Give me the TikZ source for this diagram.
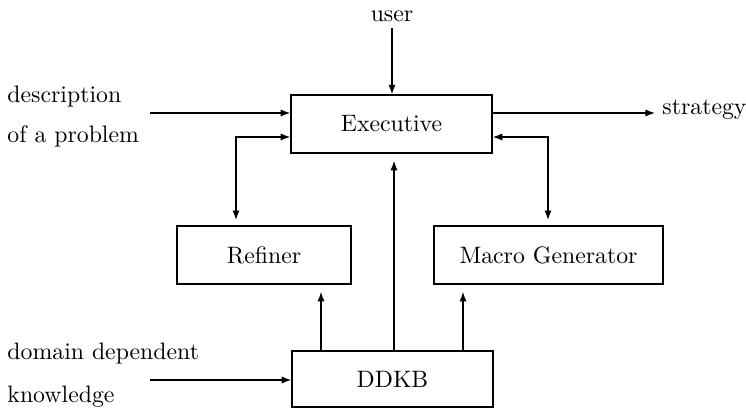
\documentclass[tikz,border=0pt]{standalone}
\usetikzlibrary{arrows.meta}
\begin{document}
\begin{tikzpicture}[x=0.4207pt,y=-0.4207pt,
  box/.style={draw,line width=0.6pt,inner sep=0pt},
  lbl/.style={anchor=base west,inner sep=0pt},
  arr/.style={line width=0.55pt,-{Latex[length=4pt,width=3pt]}},
  darr/.style={line width=0.55pt,{Latex[length=4pt,width=3pt]}-{Latex[length=4pt,width=3pt]}}]
\useasboundingbox (0,0) rectangle (746,408);
% boxes
\node[box,minimum width=84.6pt,minimum height=24.4pt] (exec) at (391.5,124) {Executive};
\node[box,minimum width=73.2pt,minimum height=24.4pt] (refiner) at (264,255) {Refiner};
\node[box,minimum width=96.3pt,minimum height=24.4pt] (macro) at (548.5,255) {Macro Generator};
\node[box,minimum width=84.6pt,minimum height=23.6pt] (ddkb) at (392.5,379) {DDKB};
% texts
\node[anchor=base,inner sep=0pt] (user) at (392,22) {user};
\node[lbl] (desc1) at (7,103) {description};
\node[lbl] (desc2) at (7,143) {of a problem};
\node[lbl] (dom1) at (7,360) {domain dependent};
\node[lbl] (dom2) at (7,403) {knowledge};
\node[lbl] (strat) at (662,115) {strategy};
% helper coordinates
\coordinate (uin) at (392,28);
\coordinate (din) at (150,113);
\coordinate (kin) at (150,380);
\coordinate (sout) at (655,113);
\coordinate (rl) at (236,137);
\coordinate (ml) at (548,137);
\coordinate (rx) at (321,0);
\coordinate (cx) at (394,0);
\coordinate (mx) at (463,0);
% connectors
\draw[arr] (uin) -- (uin |- exec.north);
\draw[arr] (din) -- (din -| exec.west);
\draw[arr] (exec.east |- sout) -- (sout);
\draw[darr,shorten <=2.2pt] (refiner.north -| rl) -- (rl) -- (rl -| exec.west);
\draw[darr,shorten <=2.2pt] (macro.north -| ml) -- (ml) -- (ml -| exec.east);
\draw[arr,shorten >=3pt] (ddkb.north -| cx) -- (exec.south -| cx);
\draw[arr,shorten >=3pt] (ddkb.north -| rx) -- (refiner.south -| rx);
\draw[arr,shorten >=3pt] (ddkb.north -| mx) -- (macro.south -| mx);
\draw[arr] (kin) -- (kin -| ddkb.west);
\end{tikzpicture}
\end{document}
